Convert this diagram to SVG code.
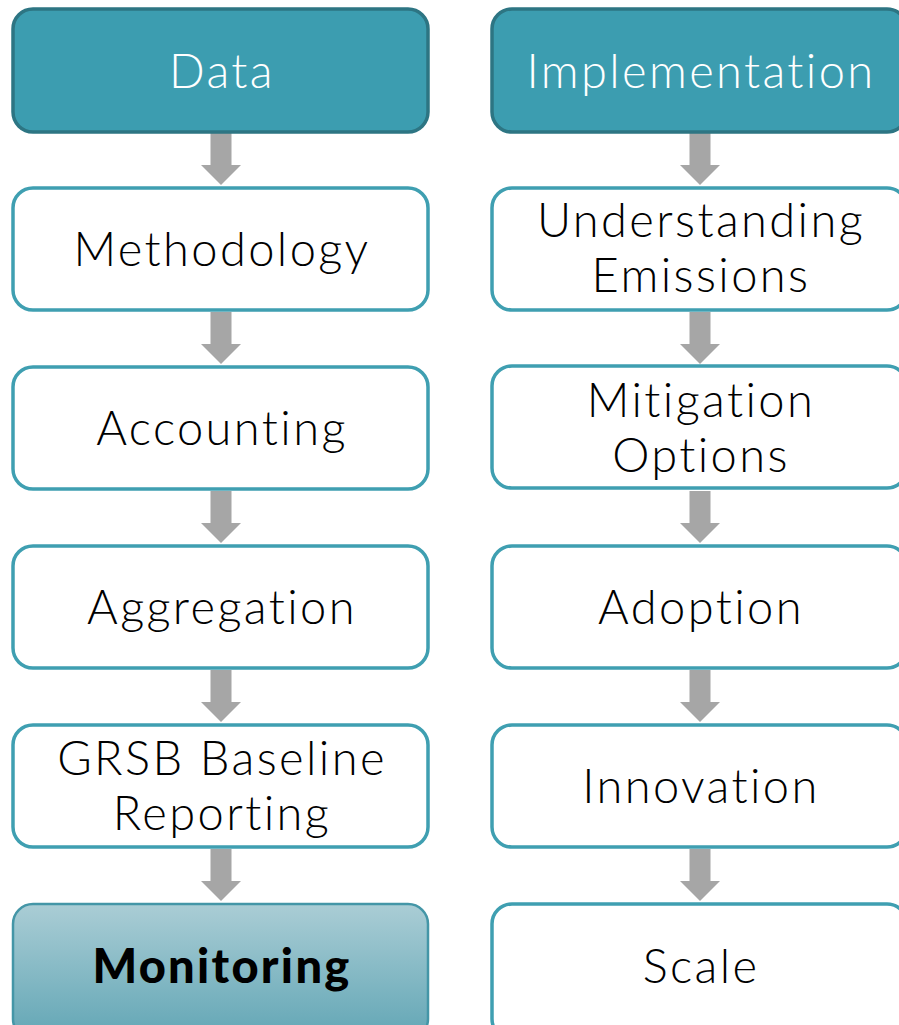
<svg xmlns="http://www.w3.org/2000/svg" width="899" height="1025" viewBox="0 0 899 1025">
<defs>
<style>
.hdr{fill:#3c9db0;stroke:#2d7583;stroke-width:3.5}
.box{fill:#ffffff;stroke:#3f9fb1;stroke-width:3.5}
.mon{fill:url(#g);stroke:#4496a7;stroke-width:2.5}
.t{font-family:Lato,"Liberation Sans",sans-serif;font-size:47px;font-weight:300;letter-spacing:2.4px;font-variant-ligatures:none;fill:#000;text-anchor:middle}
.th{fill:#ffffff}
.tb{font-weight:900;letter-spacing:2.3px}
.arr{fill:#a6a6a6}
</style>
<linearGradient id="g" x1="0" y1="0" x2="0" y2="1">
<stop offset="0" stop-color="#aacdd5"/>
<stop offset="1" stop-color="#62a6b5"/>
</linearGradient>
<path id="a" d="M-10.5,0 H10.5 V32 H20 L0,52 L-20,32 H-10.5 Z"/>
</defs>
<g id="connectors">
<use href="#a" class="arr" x="221" y="133"/>
<use href="#a" class="arr" x="221" y="312"/>
<use href="#a" class="arr" x="221" y="491"/>
<use href="#a" class="arr" x="221" y="670"/>
<use href="#a" class="arr" x="221" y="849"/>
<use href="#a" class="arr" x="700" y="133"/>
<use href="#a" class="arr" x="700" y="312"/>
<use href="#a" class="arr" x="700" y="491"/>
<use href="#a" class="arr" x="700" y="670"/>
<use href="#a" class="arr" x="700" y="849"/>
</g>
<g id="n-data"><rect class="hdr" x="13" y="9" width="415" height="123" rx="20"/><text class="t th" x="222" y="88">Data</text></g>
<g id="n-methodology"><rect class="box" x="13" y="188" width="415" height="122" rx="20"/><text class="t" x="222" y="266">Methodology</text></g>
<g id="n-accounting"><rect class="box" x="13" y="367" width="415" height="122" rx="20"/><text class="t" x="222" y="445">Accounting</text></g>
<g id="n-aggregation"><rect class="box" x="13" y="546" width="415" height="122" rx="20"/><text class="t" x="222" y="624">Aggregation</text></g>
<g id="n-grsb"><rect class="box" x="13" y="725" width="415" height="122" rx="20"/><text class="t" x="222" y="775">GRSB Baseline</text><text class="t" x="222" y="830">Reporting</text></g>
<g id="n-monitoring"><rect class="mon" x="13" y="904" width="415" height="135" rx="20"/><text class="t tb" x="222" y="983">Monitoring</text></g>
<g id="n-implementation"><rect class="hdr" x="492" y="9" width="415" height="123" rx="20"/><text class="t th" x="701" y="88">Implementation</text></g>
<g id="n-understanding"><rect class="box" x="492" y="188" width="415" height="122" rx="20"/><text class="t" x="701" y="237">Understanding</text><text class="t" x="701" y="292">Emissions</text></g>
<g id="n-mitigation"><rect class="box" x="492" y="366" width="415" height="122" rx="20"/><text class="t" x="701" y="417">Mitigation</text><text class="t" x="701" y="472">Options</text></g>
<g id="n-adoption"><rect class="box" x="492" y="546" width="415" height="122" rx="20"/><text class="t" x="701" y="624">Adoption</text></g>
<g id="n-innovation"><rect class="box" x="492" y="725" width="415" height="122" rx="20"/><text class="t" x="701" y="803">Innovation</text></g>
<g id="n-scale"><rect class="box" x="492" y="904" width="415" height="135" rx="20"/><text class="t" x="701" y="983">Scale</text></g>
</svg>
